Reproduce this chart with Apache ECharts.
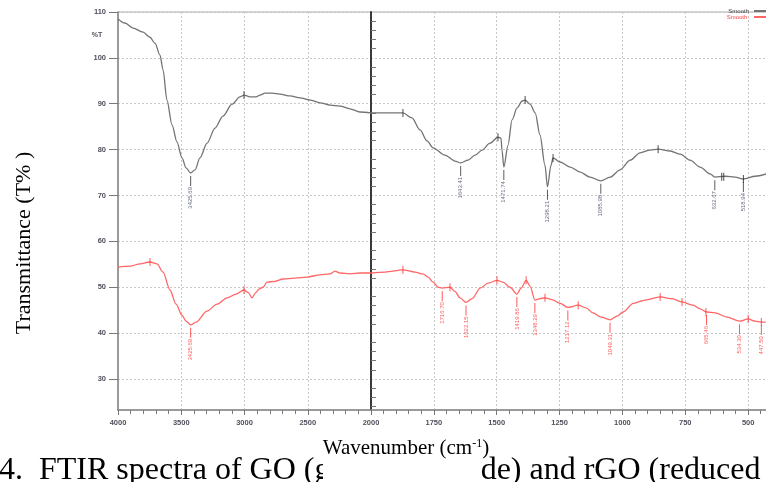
<!DOCTYPE html>
<html lang="en">
<head>
<meta charset="utf-8" />
<title>FTIR spectra of GO and rGO</title>
<script src="https://cdn.jsdelivr.net/npm/echarts@6/dist/echarts.min.js"></script>
<style>
  html, body { margin: 0; padding: 0; background: #fff; }
  #chart { width: 766px; height: 482px; }
</style>
</head>
<body>
<div id="chart"></div>
<script>
// GO trace (upper, grey)
var goWave = [4000, 3945, 3881, 3802, 3747, 3708, 3668, 3644, 3613, 3573, 3534, 3494, 3462, 3425.69, 3391, 3352, 3296, 3233, 3170, 3099, 3036, 3004, 2957, 2909, 2877, 2838, 2783, 2719, 2640, 2561, 2482, 2403, 2324, 2245, 2166, 2087, 2000,
  1924, 1873, 1837, 1805, 1777, 1753, 1706, 1666, 1643.41, 1614, 1586, 1558, 1527, 1495, 1483, 1479, 1471.74, 1455, 1439, 1419, 1399, 1387, 1367, 1347, 1328, 1308, 1298.21, 1284, 1276, 1248, 1208, 1168, 1129, 1085.98, 1049, 1009, 969, 930, 890, 858, 810, 770, 731, 691, 651, 632.67, 591, 552, 518.94, 472, 428];
var goT = [108.5, 107.6, 106.5, 105.6, 104.5, 103.2, 100.6, 97.4, 90.8, 85.4, 81.7, 78.2, 76.0, 74.9, 75.6, 78.2, 81.4, 84.7, 87.3, 89.9, 91.5, 91.9, 91.5, 91.5, 91.9, 92.3, 92.3, 92.1, 91.7, 91.3, 90.8, 90.2, 89.7, 89.5, 88.9, 88.2, 88.0,
  88.0, 88.0, 86.9, 84.3, 81.9, 80.4, 78.8, 77.5, 77.1, 77.7, 78.8, 79.9, 81.4, 82.7, 82.5, 79.9, 76.2, 81.0, 86.5, 89.1, 90.6, 90.8, 89.9, 88.0, 83.2, 76.6, 71.9, 76.6, 78.2, 77.3, 76.2, 75.1, 74.0, 73.2, 74.0, 75.6, 77.7, 79.3, 79.9, 80.1, 79.7, 79.0, 77.7, 76.2, 74.7, 74.0, 74.2, 74.0, 73.6, 74.2, 74.7];

// rGO trace (lower, red)
var rgoWave = [4000, 3905, 3826, 3747, 3692, 3644, 3589, 3541, 3494, 3462, 3425.69, 3383, 3296, 3217, 3138, 3067, 3004, 2972, 2941, 2909, 2885, 2854, 2822, 2759, 2696, 2601, 2506, 2403, 2324, 2284, 2245, 2166, 2087, 2000,
  1944, 1873, 1825, 1793, 1773, 1753, 1733, 1716.70, 1686, 1666, 1646, 1622.15, 1598, 1566, 1534, 1499, 1475, 1447, 1419.86, 1403, 1383, 1367, 1348.29, 1328, 1308, 1280, 1248, 1217.12, 1176, 1145, 1117, 1085, 1049.31, 1021, 997, 957, 910, 850, 802, 763, 719, 691, 665.46, 631, 584, 534.30, 500, 472, 447.50, 430];
var rgoT = [54.4, 54.6, 55.1, 55.5, 55.1, 53.3, 49.4, 46.3, 43.9, 42.6, 41.8, 42.4, 44.8, 46.3, 47.7, 48.5, 49.4, 48.9, 47.7, 48.9, 49.6, 50.0, 51.1, 51.3, 51.8, 52.0, 52.2, 52.7, 52.9, 53.5, 53.1, 52.9, 53.1, 53.1,
  53.3, 53.8, 53.3, 52.9, 52.2, 51.1, 50.0, 49.8, 50.0, 49.1, 47.7, 46.7, 47.5, 49.8, 50.9, 51.5, 51.1, 50.0, 48.5, 49.8, 51.5, 50.2, 47.2, 47.5, 47.7, 47.3, 46.5, 45.6, 46.1, 45.5, 44.4, 43.5, 42.9, 43.7, 44.6, 46.5, 47.2, 47.9, 47.5, 46.8, 46.1, 45.3, 44.6, 44.4, 43.5, 42.6, 43.1, 42.6, 42.4, 42.4];

// labelled peaks
var goPeakWave = [3425.69, 1643.41, 1471.74, 1298.21, 1085.98, 632.67, 518.94];
var goPeakT = [74.9, 77.1, 76.2, 71.9, 73.2, 74.0, 73.6];
var rgoPeakWave = [3425.69, 1716.70, 1622.15, 1419.86, 1348.29, 1217.12, 1049.31, 665.46, 534.30, 447.50];
var rgoPeakT = [41.8, 49.8, 46.7, 48.5, 47.2, 45.6, 42.9, 44.6, 42.6, 42.4];

// small cursor marks on the traces
var goMarkWave = [3004, 1873, 1495, 1387, 1276, 858, 605, 597, 518.94];
var goMarkT = [91.9, 88.0, 82.7, 90.8, 78.2, 80.1, 74.1, 74.1, 73.6];
var rgoMarkWave = [3747, 3004, 1873, 1686, 1499, 1383, 1308, 1176, 850, 763, 668, 500, 447.5];
var rgoMarkT = [55.5, 49.4, 53.8, 50.0, 51.5, 51.5, 47.7, 46.1, 47.9, 46.8, 44.6, 43.1, 42.4];

var yMajor = [30, 40, 50, 60, 70, 80, 90, 100, 110];
var yMinor = [];
for (var v = 24; v <= 108; v += 2) { if (v % 10 !== 0) yMinor.push(v); }

var Y_MIN = 23.24, Y_MAX = 110;

function zip(a, b) {
  var out = [];
  for (var i = 0; i < a.length; i++) out.push([a[i], b[i]]);
  return out;
}
function left(d) { return d.filter(function (p) { return p[0] >= 2000; }); }
function right(d) { return d.filter(function (p) { return p[0] <= 2000; }); }

var goData = zip(goWave, goT);
var rgoData = zip(rgoWave, rgoT);
var goPeaks = zip(goPeakWave, goPeakT);
var rgoPeaks = zip(rgoPeakWave, rgoPeakT);
var goMarks = zip(goMarkWave, goMarkT);
var rgoMarks = zip(rgoMarkWave, rgoMarkT);

var GREY = '#737373', RED = '#ff6666';
var tickFont = { fontSize: 7.5, fontWeight: 'bold', color: '#50505e', fontFamily: 'Liberation Sans' };

var chart = echarts.init(document.getElementById('chart'));

function lineSeries(name, data, idx, color) {
  return {
    name: name, type: 'line', xAxisIndex: idx, yAxisIndex: idx, data: data,
    showSymbol: false, smooth: 0.3, smoothMonotone: 'x',
    lineStyle: { color: color, width: 1.3 }, itemStyle: { color: color },
    silent: true, z: 3
  };
}
function peakSeries(data, idx, color, textColor) {
  return {
    type: 'scatter', xAxisIndex: idx, yAxisIndex: idx, data: data,
    symbol: 'rect', symbolSize: [1, 10], symbolOffset: [0, 8],
    itemStyle: { color: color }, silent: true, z: 4,
    label: {
      show: true, position: 'bottom', distance: 1, rotate: 90,
      align: 'right', verticalAlign: 'middle',
      fontSize: 6, color: textColor, fontFamily: 'Liberation Sans',
      formatter: function (p) { return p.value[0].toFixed(2); }
    }
  };
}
function markSeries(data, idx, color) {
  return {
    type: 'scatter', xAxisIndex: idx, yAxisIndex: idx, data: data,
    symbol: 'rect', symbolSize: [1, 8], itemStyle: { color: color }, silent: true, z: 4
  };
}

var splitDots = { show: true, lineStyle: { color: '#c8c8c8', type: [2, 2], width: 1 } };

chart.setOption({
  animation: false,
  grid: [
    { left: 118, top: 12, width: 253, height: 398, show: true, borderColor: '#aaa', borderWidth: 1, outerBoundsMode: 'none' },
    { left: 371, top: 12, width: 440, height: 398, show: true, borderColor: '#aaa', borderWidth: 1, outerBoundsMode: 'none' }
  ],
  legend: {
    right: 0, top: 8, orient: 'vertical', align: 'right', padding: 0,
    itemWidth: 12, itemHeight: 2, itemGap: 0, icon: 'rect',
    textStyle: { fontSize: 6, padding: [0, 0, 0, 0], fontFamily: 'Liberation Sans' },
    data: [
      { name: 'Smooth', textStyle: { color: '#444' } },
      { name: 'Smooth ', textStyle: { color: '#ff4040' } }
    ]
  },
  xAxis: [
    {
      gridIndex: 0, type: 'value', min: 2000, max: 4000, interval: 500, inverse: true,
      axisLine: { onZero: false, lineStyle: { color: '#888', width: 1.5 } },
      axisTick: { length: 5, lineStyle: { color: '#777' } },
      minorTick: { show: true, splitNumber: 5, length: 4, lineStyle: { color: '#777' } },
      axisLabel: Object.assign({ margin: 9, formatter: function (v) { return v === 2000 ? '' : String(v); } }, tickFont),
      splitLine: splitDots
    },
    {
      gridIndex: 1, type: 'value', min: 250, max: 2000, interval: 250, inverse: true,
      axisLine: { onZero: false, lineStyle: { color: '#888', width: 1.5 } },
      axisTick: { length: 5, lineStyle: { color: '#777' } },
      minorTick: { show: true, splitNumber: 5, length: 4, lineStyle: { color: '#777' } },
      axisLabel: Object.assign({ margin: 9, formatter: function (v) { return String(v); } }, tickFont),
      splitLine: splitDots
    }
  ],
  yAxis: [
    {
      gridIndex: 0, type: 'value', min: Y_MIN, max: Y_MAX,
      axisLine: { show: true, lineStyle: { color: '#888', width: 1.5 } },
      axisTick: { show: true, length: 9, customValues: yMajor, lineStyle: { color: '#777' } },
      axisLabel: Object.assign({ margin: 12, customValues: yMajor }, tickFont),
      splitLine: splitDots
    },
    {
      gridIndex: 1, type: 'value', min: Y_MIN, max: Y_MAX,
      axisLine: { show: true, lineStyle: { color: '#3a3a3a', width: 2 } },
      axisTick: { show: false, customValues: yMajor },
      axisLabel: { show: false, customValues: yMajor },
      splitLine: splitDots
    },
    {
      gridIndex: 0, type: 'value', min: Y_MIN, max: Y_MAX,
      axisLine: { show: false },
      axisTick: { show: true, length: 5, customValues: yMinor, lineStyle: { color: '#777' } },
      axisLabel: { show: false, customValues: yMinor },
      splitLine: { show: false }
    }
  ],
  series: [
    lineSeries('Smooth', left(goData), 0, GREY),
    lineSeries('Smooth', right(goData), 1, GREY),
    lineSeries('Smooth ', left(rgoData), 0, RED),
    lineSeries('Smooth ', right(rgoData), 1, RED),
    peakSeries(left(goPeaks), 0, '#333', '#3c4660'),
    peakSeries(right(goPeaks), 1, '#333', '#3c4660'),
    peakSeries(left(rgoPeaks), 0, '#ff3030', '#ff3030'),
    peakSeries(right(rgoPeaks), 1, '#ff3030', '#ff3030'),
    markSeries(left(goMarks), 0, '#222'),
    markSeries(right(goMarks), 1, '#222'),
    markSeries(left(rgoMarks), 0, '#ff3030'),
    markSeries(right(rgoMarks), 1, '#ff3030')
  ],
  graphic: [
    {
      type: 'text', x: 97, y: 35, z: 10,
      style: { text: '%T', fontSize: 7, fontWeight: 'bold', fill: '#50505e', fontFamily: 'Liberation Sans', align: 'center', verticalAlign: 'middle' }
    },
    {
      type: 'text', x: 24, y: 243, rotation: Math.PI / 2, z: 10,
      style: { text: 'Transmittance (T% )', font: '22px "Liberation Serif"', fill: '#000', align: 'center', verticalAlign: 'middle' }
    },
    {
      type: 'text', x: -1, y: 455, z: 10,
      style: { text: '4.  FTIR spectra of GO (graphene oxide) and rGO (reduced graphene oxide)', font: '32px "Liberation Serif"', fill: '#000', align: 'left', verticalAlign: 'top' }
    },
    {
      // white patch of the axis-title image lying over the caption
      type: 'rect', z: 11,
      shape: { x: 323, y: 438, width: 158, height: 44 },
      style: { fill: '#fff' }
    },
    {
      type: 'text', x: 406, y: 438, z: 12,
      style: {
        text: '{a|Wavenumber (cm}{s|-1}{a|)}',
        rich: {
          a: { fontSize: 21, fontFamily: 'Liberation Serif', color: '#000' },
          s: { fontSize: 12, fontFamily: 'Liberation Serif', color: '#000', padding: [0, 0, 9, 0] }
        },
        align: 'center', verticalAlign: 'top'
      }
    }
  ]
});
</script>
</body>
</html>
